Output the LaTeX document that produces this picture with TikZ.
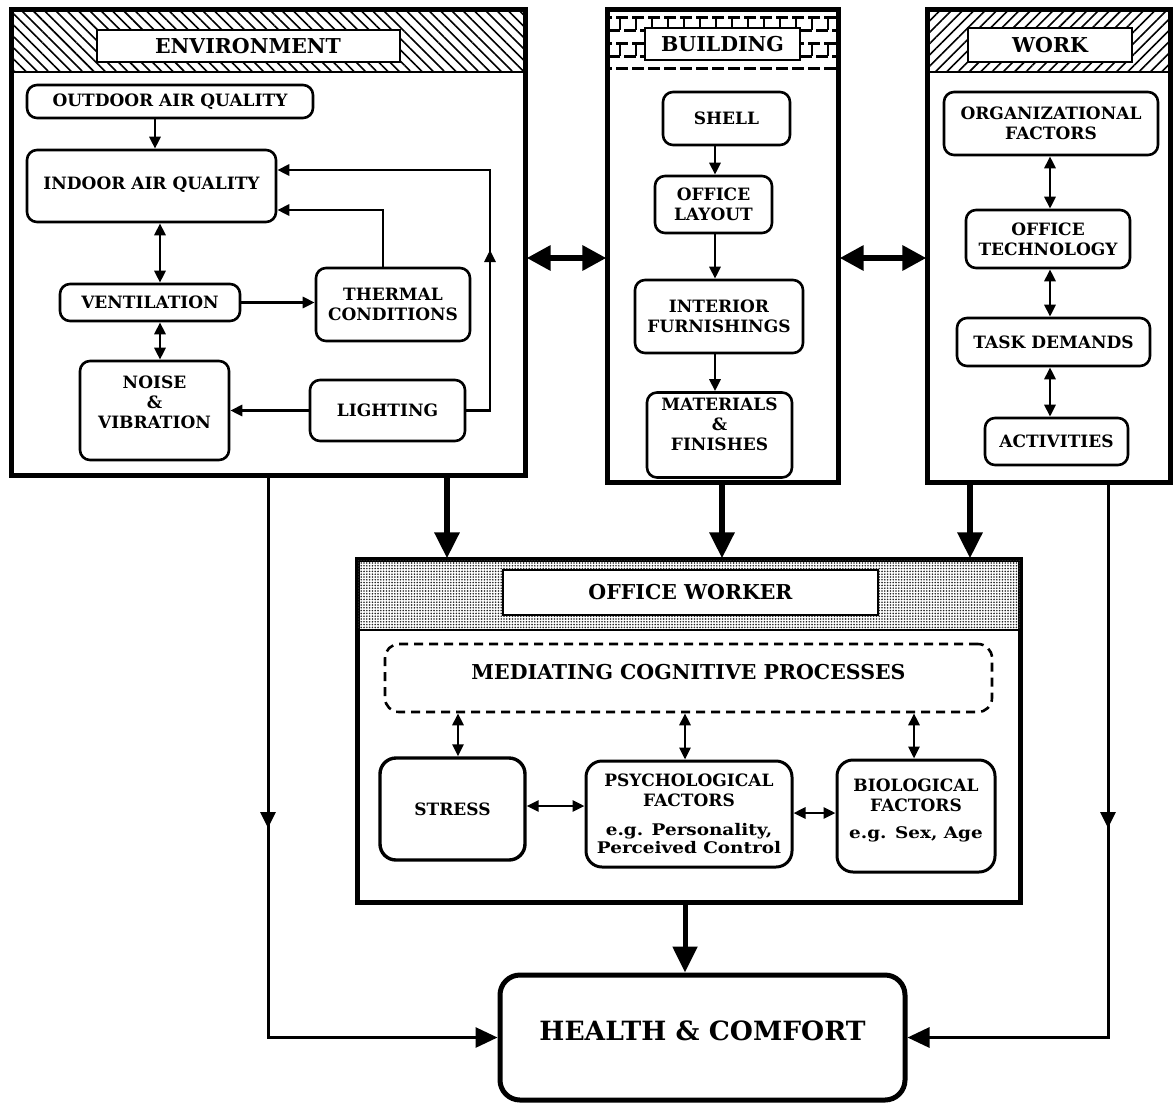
\documentclass[tikz,border=0pt]{standalone}
\usepackage{fontspec}
\setmainfont{DejaVu Serif}
\newfontfamily\egfont{DejaVu Serif}[FakeStretch=1.15]
\usetikzlibrary{arrows.meta,patterns,patterns.meta,calc}
\newcommand\mybx{\fontsize{17}{20}\selectfont\bfseries}
\newcommand\myttl{\fontsize{20.5}{24}\selectfont\bfseries}
\newcommand\mymed{\fontsize{20.5}{24}\selectfont\bfseries}
\newcommand\myeg{\egfont\fontsize{16}{20}\selectfont\bfseries}
\newcommand\myhc{\fontsize{26.5}{31}\selectfont\bfseries}
\begin{document}
\begin{tikzpicture}[x=1pt,y=-1pt,
  ibox/.style={draw, line width=2.6pt, rounded corners=10pt, align=center, inner sep=2pt, font=\mybx},
  outer/.style={draw, line width=3.2pt, inner sep=0pt},
  ttl/.style={draw, fill=white, line width=2pt, inner sep=0pt, font=\myttl},
  arr/.style={line width=2.8pt, -{Triangle[length=12pt,width=11pt]}},
  darr/.style={line width=2.8pt, {Triangle[length=12pt,width=11pt]}-{Triangle[length=12pt,width=11pt]}},
  bigarr/.style={line width=6pt, -{Triangle[length=26pt,width=24pt]}},
  bigdarr/.style={line width=6pt, {Triangle[length=24pt,width=24pt]}-{Triangle[length=24pt,width=24pt]}},
  longarr/.style={line width=3pt, -{Triangle[length=16pt,width=15pt]}},
  hcarr/.style={line width=3pt, -{Triangle[length=22pt,width=20pt]}}
]
\useasboundingbox (0,0) rectangle (1175,1109);

% ---------------- ENVIRONMENT ----------------
\node[outer, minimum width=513pt, minimum height=465pt] (env) at (268.5,242.5) {};
\fill[pattern={Lines[angle=-45,distance=8pt,line width=1.6pt]}] (12,10) rectangle (525,72);
\draw[line width=2pt] (12,72) -- (525,72);
\draw[line width=3.2pt] (env.north west) rectangle (env.south east);
\node[ttl, minimum width=303pt, minimum height=32pt] (envt) at (248,46) {ENVIRONMENT};

\node[ibox, minimum width=286pt, minimum height=33pt] (oaq) at (170,101.5) {OUTDOOR AIR QUALITY};
\node[ibox, minimum width=249pt, minimum height=72pt, text depth=6pt] (iaq) at (151.5,186) {INDOOR AIR QUALITY};
\node[ibox, minimum width=180pt, minimum height=37pt] (vent) at (150,302.5) {VENTILATION};
\node[ibox, minimum width=154pt, minimum height=73pt] (therm) at (393,304.5) {THERMAL\\CONDITIONS};
\node[ibox, minimum width=149pt, minimum height=99pt, text depth=16pt] (noise) at (154.5,410.5) {NOISE\\\&\\VIBRATION};
\node[ibox, minimum width=155pt, minimum height=61pt] (light) at (387.5,410.5) {LIGHTING};

\draw[arr] (155,0 |- oaq.south) -- (155,0 |- iaq.north);
\draw[darr] (160,0 |- iaq.south) -- (160,0 |- vent.north);
\draw[darr] (160,0 |- vent.south) -- (160,0 |- noise.north);
\draw[arr] (vent.east) -- (therm.west |- vent.east);
\draw[arr] (383,0 |- therm.north) |- (iaq.east |- 0,210);
\draw[arr] (light.east) -| (490,250);
\draw[arr] (490,254) |- (iaq.east |- 0,170);
\draw[arr] (light.west) -- (noise.east |- light.west);

% ---------------- BUILDING ----------------
\node[outer, minimum width=230pt, minimum height=472pt] (bldg) at (723,246) {};
\begin{scope}
\clip (608,10) rectangle (838,72);
\foreach \y/\ph in {17/0,30/8,43/0,56/8,68/0}
  \draw[line width=3pt, dash pattern=on 12pt off 4pt, dash phase=\ph pt] (600,\y) -- (845,\y);
\foreach \x in {620,636,652,668,684,700,716,732,748,764,780,796,812,828}
  \foreach \y in {17,43}
    \draw[line width=2pt] (\x,\y) -- (\x,\y+13);
\end{scope}
\draw[line width=3.2pt] (bldg.north west) rectangle (bldg.south east);
\node[ttl, minimum width=155pt, minimum height=32pt] (bldgt) at (722.5,44) {BUILDING};

\node[ibox, minimum width=127pt, minimum height=53pt] (shell) at (726.5,118.5) {SHELL};
\node[ibox, minimum width=117pt, minimum height=57pt] (layout) at (713.5,204.5) {OFFICE\\LAYOUT};
\node[ibox, minimum width=168pt, minimum height=73pt] (furn) at (719,316.5) {INTERIOR\\FURNISHINGS};
\node[ibox, minimum width=145pt, minimum height=85pt, text depth=22pt] (mat) at (719.5,435) {MATERIALS\\\&\\FINISHES};

\draw[arr] (715,0 |- shell.south) -- (715,0 |- layout.north);
\draw[arr] (715,0 |- layout.south) -- (715,0 |- furn.north);
\draw[arr] (715,0 |- furn.south) -- (715,0 |- mat.north);

% ---------------- WORK ----------------
\node[outer, minimum width=242pt, minimum height=472pt] (work) at (1049,246) {};
\fill[pattern={Lines[angle=45,distance=8pt,line width=1.6pt]}] (928,10) rectangle (1170,72);
\draw[line width=2pt] (928,72) -- (1170,72);
\draw[line width=3.2pt] (work.north west) rectangle (work.south east);
\node[ttl, minimum width=164pt, minimum height=34pt] (workt) at (1050,45) {WORK};

\node[ibox, minimum width=214pt, minimum height=63pt] (org) at (1051,123.5) {ORGANIZATIONAL\\FACTORS};
\node[ibox, minimum width=164pt, minimum height=58pt] (tech) at (1048,239) {OFFICE\\TECHNOLOGY};
\node[ibox, minimum width=193pt, minimum height=48pt] (task) at (1053.5,342) {TASK DEMANDS};
\node[ibox, minimum width=143pt, minimum height=47pt] (act) at (1056.5,441.5) {ACTIVITIES};

\draw[darr] (1050,0 |- org.south) -- (1050,0 |- tech.north);
\draw[darr] (1050,0 |- tech.south) -- (1050,0 |- task.north);
\draw[darr] (1050,0 |- task.south) -- (1050,0 |- act.north);

% big links between top boxes
\draw[bigdarr] (env.east |- 0,258) -- (bldg.west |- 0,258);
\draw[bigdarr] (bldg.east |- 0,258) -- (work.west |- 0,258);

% ---------------- OFFICE WORKER ----------------
\node[outer, minimum width=662pt, minimum height=342pt] (ow) at (689,731) {};
\fill[pattern={Dots[distance=2.8pt,radius=0.9pt]}, pattern color=black!85] (358,560) rectangle (1020,630);
\draw[line width=2pt] (358,630) -- (1020,630);
\draw[line width=3.2pt] (ow.north west) rectangle (ow.south east);
\node[ttl, minimum width=375pt, minimum height=45pt] (owt) at (690.5,592.5) {OFFICE WORKER};

\node[draw, dashed, dash pattern=on 9pt off 6pt, line width=2.6pt, rounded corners=14pt, font=\mymed,
      minimum width=607pt, minimum height=68pt, text depth=13pt] (med) at (688.5,678) {MEDIATING COGNITIVE PROCESSES};
\node[ibox, line width=3.4pt, rounded corners=16pt, minimum width=145pt, minimum height=102pt] (stress) at (452.5,809) {STRESS};
\node[ibox, line width=3pt, rounded corners=16pt, minimum width=206pt, minimum height=106pt] (psych) at (689,814)
   {PSYCHOLOGICAL\\FACTORS\\[9pt]{\myeg e.g. Personality,}\\[-2pt]{\myeg Perceived Control}};
\node[ibox, line width=3pt, rounded corners=16pt, minimum width=158pt, minimum height=112pt, text depth=14pt] (bio) at (916,816)
   {BIOLOGICAL\\FACTORS\\[7pt]{\myeg e.g. Sex, Age}};

\draw[darr] (458,0 |- med.south) -- (458,0 |- stress.north);
\draw[darr] (685,0 |- med.south) -- (685,0 |- psych.north);
\draw[darr] (914,0 |- med.south) -- (914,0 |- bio.north);
\draw[darr] (stress.east |- 0,806) -- (psych.west |- 0,806);
\draw[darr] (psych.east |- 0,813) -- (bio.west |- 0,813);

% arrows into office worker
\draw[bigarr] (447,0 |- env.south) -- (447,0 |- ow.north);
\draw[bigarr] (722,0 |- bldg.south) -- (722,0 |- ow.north);
\draw[bigarr] (970,0 |- work.south) -- (970,0 |- ow.north);

% ---------------- HEALTH & COMFORT ----------------
\node[draw, line width=5pt, rounded corners=20pt, font=\myhc, minimum width=405pt, minimum height=125pt, text depth=14pt] (hc) at (702.5,1037.5) {HEALTH \& COMFORT};

\draw[bigarr, line width=5pt] (685,0 |- ow.south) -- (685,0 |- hc.north);

\draw[longarr] (268,0 |- env.south) -- (268,828);
\draw[hcarr] (268,824) |- (hc.west);
\draw[longarr] (1108,0 |- work.south) -- (1108,828);
\draw[hcarr] (1108,824) |- (hc.east);
\end{tikzpicture}
\end{document}
